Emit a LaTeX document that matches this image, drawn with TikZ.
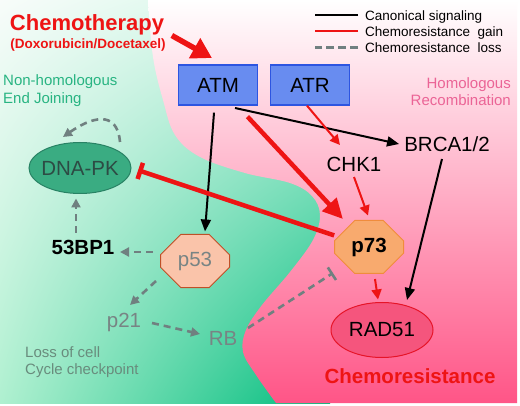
\documentclass[tikz,border=0pt]{standalone}
\usepackage{fontspec}
\setmainfont{Liberation Sans}
\usepackage{xcolor}
\usetikzlibrary{arrows.meta,shapes.geometric,shapes.misc,shadings}

\definecolor{chemred}{RGB}{238,20,20}
\definecolor{boxblue}{RGB}{104,140,240}
\definecolor{boxedge}{RGB}{45,85,225}
\definecolor{lossgray}{RGB}{112,128,128}
\definecolor{greenul}{RGB}{248,252,250}
\definecolor{greenur}{RGB}{205,246,228}
\definecolor{greenll}{RGB}{175,240,208}
\definecolor{greenlr}{RGB}{0,188,125}
\definecolor{bgpink}{RGB}{255,85,135}
\definecolor{midpink}{RGB}{255,185,212}
\definecolor{nhejgreen}{RGB}{40,180,130}
\definecolor{hrpink}{RGB}{235,100,150}
\definecolor{pfiftyfill}{RGB}{250,196,170}
\definecolor{pfiftyedge}{RGB}{190,80,40}
\definecolor{pseventyfill}{RGB}{248,170,110}
\definecolor{pseventyedge}{RGB}{240,140,60}
\definecolor{pkfill}{RGB}{58,172,130}
\definecolor{pkedge}{RGB}{40,130,100}
\definecolor{pktext}{RGB}{45,75,68}
\definecolor{radfill}{RGB}{245,85,125}
\definecolor{radedge}{RGB}{230,20,40}
\definecolor{genegray}{RGB}{120,132,132}
\definecolor{cyclegray}{RGB}{105,140,125}

\begin{document}
\begin{tikzpicture}[x=1pt,y=1pt,
  big/.style={font=\fontsize{20.5}{24}\selectfont},
  bigbold/.style={font=\fontsize{20.5}{24}\selectfont\bfseries},
  gene/.style={big, inner sep=0pt},
  kinase/.style={big, draw=boxedge, line width=1.3pt, fill=boxblue, minimum width=79pt, minimum height=40pt},
  octa/.style={big, chamfered rectangle, chamfered rectangle xsep=11pt, chamfered rectangle ysep=11pt, minimum width=69pt, minimum height=53pt, inner sep=0pt, line width=1pt},
  oval/.style={big, ellipse, inner xsep=-10pt, inner ysep=0pt, minimum width=102pt, line width=1pt},
  note/.style={font=\fontsize{15}{17.5}\selectfont, inner sep=0pt},
  legendtext/.style={font=\fontsize{13.5}{16}\selectfont, anchor=base west, inner sep=0pt},
  canon/.style={-{Triangle[length=12pt,width=10pt]}, line width=2pt},
  gain/.style={-{Triangle[length=10pt,width=10pt]}, chemred, line width=2pt},
  gainthick/.style={-{Triangle[length=20pt,width=19pt]}, chemred, line width=4.5pt},
  chemoarrow/.style={-{Triangle[length=20pt,width=22pt]}, chemred, line width=5.5pt},
  loss/.style={-{Triangle[length=9pt,width=9pt]}, lossgray, line width=2.6pt, dash pattern=on 7pt off 5pt}
]
\useasboundingbox (0,0) rectangle (520,405);
\fill[white] (0,0) rectangle (520,405);

% two repair pathways
\shade[upper left=greenul, upper right=greenur, lower left=greenll, lower right=greenlr] (0,2) rectangle (330,405);
\shade[top color=white, middle color=midpink, bottom color=bgpink]
  plot[smooth, tension=0.6] coordinates {(148,405) (153,348) (163,305) (175,270) (200,248) (245,232) (290,222) (312,209) (320,190) (313,165) (290,133) (262,100) (246,75) (243,53) (256,30) (276,2)}
  -- (517,2) -- (517,405) -- cycle;

% titles
\node[text=chemred, font=\fontsize{22}{26}\selectfont\bfseries, inner sep=0pt] (chemo) at (87,380) {Chemotherapy};
\node[text=chemred, font=\fontsize{13.5}{16}\selectfont\bfseries, inner sep=0pt] (drugs) at (88,360) {(Doxorubicin/Docetaxel)};
\coordinate (chemoend) at (212,347);

\node[note, text=nhejgreen, anchor=west, align=left] (nhej) at (3,314.5) {Non-homologous\\End Joining};
\node[note, text=hrpink, anchor=east, align=right] (hr) at (511,313.5) {Homologous\\Recombination};
\node[note, text=cyclegray, anchor=west, align=left] (cycle) at (25,43) {Loss of cell\\Cycle checkpoint};
\node[text=chemred, bigbold, inner sep=0pt] (resist) at (410,29) {Chemoresistance};

% legend
\node[legendtext] (legcanon) at (365,384) {Canonical signaling};
\node[legendtext] (leggain) at (365,368) {Chemoresistance\ \ gain};
\node[legendtext] (legloss) at (365,352) {Chemoresistance\ \ loss};
\draw[line width=2pt] ([shift={(-7,5.5)}]legcanon.base west) -- ++(-43,0);
\draw[chemred, line width=2pt] ([shift={(-7,5.5)}]leggain.base west) -- ++(-43,0);
\draw[lossgray, line width=2.6pt, dash pattern=on 8pt off 4pt] ([shift={(-7,5.5)}]legloss.base west) -- ++(-43,0);

% nodes
\node[kinase] (atm) at (218,320) {ATM};
\node[kinase] (atr) at (310,320) {ATR};
\node[oval, draw=pkedge, fill=pkfill, minimum height=51pt, text=pktext] (dnapk) at (80,237) {DNA-PK};
\node[gene, bigbold] (bp) at (83,158) {53BP1};
\node[octa, draw=pfiftyedge, fill=pfiftyfill, text=genegray] (p53) at (195,144) {p53};
\node[gene, text=genegray] (p21) at (124,83) {p21};
\node[gene, text=genegray] (rb) at (223,67) {RB};
\node[gene] (chk) at (354,241) {CHK1};
\node[gene] (brca) at (447,261) {BRCA1/2};
\node[octa, bigbold, draw=pseventyedge, fill=pseventyfill] (p73) at (369,158) {p73};
\node[oval, draw=radedge, fill=radfill, minimum height=55pt] (rad) at (382,75) {RAD51};

% canonical signaling
\draw[canon] ([shift={(-4,-7)}]atm.south) -- ([shift={(10,2.5)}]p53.north);
\draw[canon] ([shift={(17,-23)}]atm.center) -- ([xshift=-5pt]brca.west);
\draw[canon] ([shift={(-5,-15)}]brca.center) -- ([shift={(25,30)}]rad.center);

% chemoresistance gain
\draw[chemoarrow] ([shift={(6,3)}]drugs.north east) -- (chemoend);
\draw[gainthick, shorten <=15pt, shorten >=9pt] (atm) -- (p73);
\draw[gain] ([xshift=-3pt]atr.south) -- ([shift={(-14,19)}]chk.center);
\draw[gain] ([yshift=-13pt]chk.center) -- ([shift={(-1,4.5)}]p73.north);
\draw[gain] ([shift={(6,-5)}]p73.south) -- ([shift={(-4,2.5)}]rad.north);
\draw[gainthick, -{Bar[width=17pt]}, shorten <=4pt, shorten >=7pt] (p73) -- (dnapk.east);

% chemoresistance loss
\draw[loss] ([shift={(-7,14)}]bp.center) -- ([shift={(-4,-4.5)}]dnapk.south);
\draw[loss] ([shift={(-7.5,9)}]p53.west) -- ([shift={(5.5,-5)}]bp.east);
\draw[loss] ([shift={(-39,-20)}]p53.center) -- ([shift={(6,17)}]p21.center);
\draw[loss] ([shift={(28,-1)}]p21.center) -- ([shift={(-23,4)}]rb.center);
\draw[loss, -{Bar[width=15pt]}] ([shift={(25,10)}]rb.center) -- ([shift={(-36,-26)}]p73.center);
\draw[loss] ([shift={(40,26)}]dnapk.center) to[out=95, in=35, looseness=1.5] ([shift={(-17,31)}]dnapk.center);
\end{tikzpicture}
\end{document}
